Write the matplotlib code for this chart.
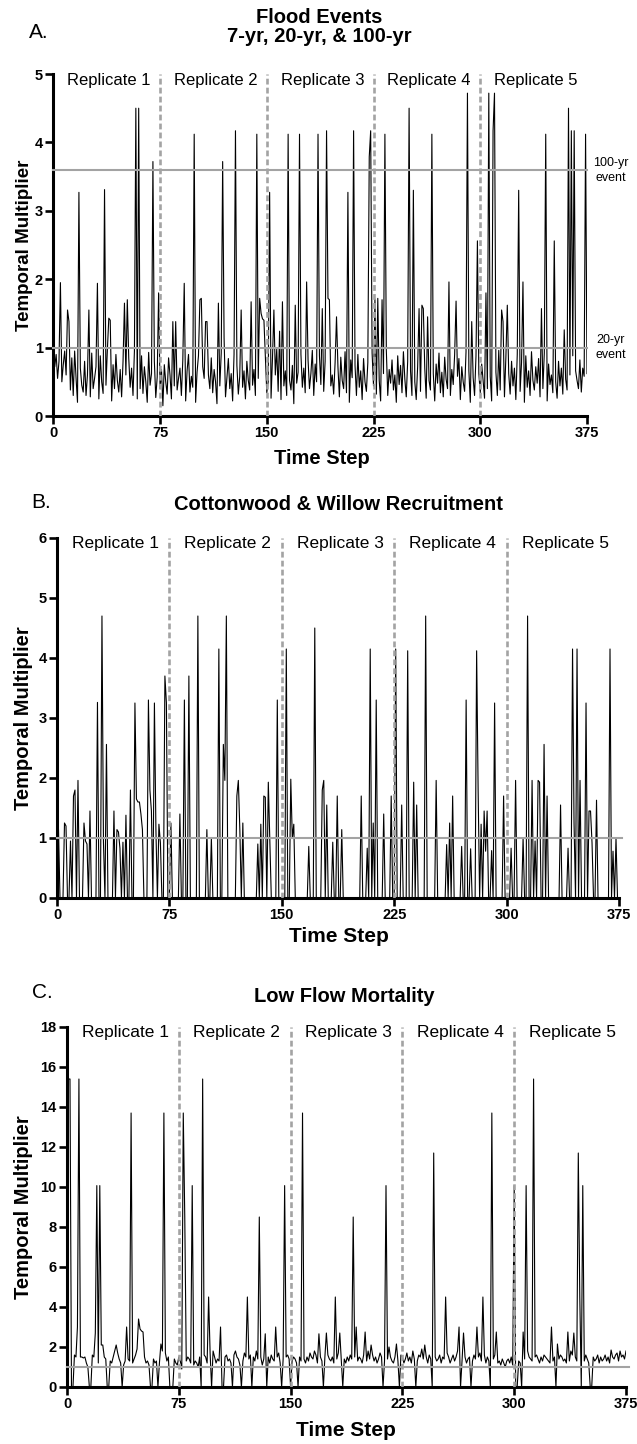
import matplotlib
matplotlib.use('Agg')
import matplotlib.pyplot as plt
from matplotlib.transforms import blended_transform_factory

plt.rcParams['font.family'] = ['Liberation Sans', 'DejaVu Sans']

W, H = 637, 1444

time_steps = list(range(376))
x_ticks = [0, 75, 150, 225, 300, 375]
replicate_edges = [75, 150, 225, 300]
replicate_names = ['Replicate 1', 'Replicate 2', 'Replicate 3', 'Replicate 4', 'Replicate 5']

# ---- A. flood events: low background values + read-off peaks ----
flood_base = [
    0.85, 0.72, 0.90, 0.55, 0.80, 0.62, 0.50, 0.75, 0.95, 0.60, 0.42, 0.70, 0.38, 0.85, 0.30, 0.95, 0.55, 0.20, 0.66, 0.70,
    0.45, 0.35, 0.80, 0.30, 0.60, 0.48, 0.28, 0.92, 0.40, 0.55, 0.72, 0.36, 0.25, 0.88, 0.50, 0.33, 0.62, 0.45, 0.97, 0.30,
    0.58, 0.22, 0.75, 0.40, 0.90, 0.52, 0.35, 0.68, 0.28, 0.80, 0.46, 0.60, 0.18, 0.85, 0.42, 0.70, 0.30, 0.95, 0.55, 0.25,
    0.65, 0.40, 0.88, 0.33, 0.72, 0.50, 0.20, 0.93, 0.45, 0.62, 0.36, 0.80, 0.27, 0.57, 0.90, 0.40, 0.68, 0.15, 0.75, 0.50,
    0.32, 0.85, 0.60, 0.25, 0.78, 0.44, 0.96, 0.38, 0.55, 0.70, 0.30, 0.82, 0.48, 0.22, 0.66, 0.90, 0.35, 0.58, 0.42, 0.76,
    0.20, 0.64, 0.88, 0.46, 0.30, 0.72, 0.55, 0.95, 0.26, 0.60, 0.40, 0.85, 0.34, 0.68, 0.50, 0.18, 0.78, 0.44, 0.92, 0.36,
    0.70, 0.28, 0.56, 0.84, 0.40, 0.62, 0.22, 0.90, 0.48, 0.74, 0.32, 0.58, 0.96, 0.42, 0.66, 0.25, 0.80, 0.52, 0.38, 0.86,
    0.45, 0.68, 0.30, 0.94, 0.55, 0.20, 0.76, 0.40, 0.62, 0.88, 0.34, 0.50, 0.72, 0.26, 0.84, 0.46, 0.60, 0.98, 0.36, 0.58,
    0.24, 0.80, 0.44, 0.66, 0.30, 0.92, 0.52, 0.38, 0.74, 0.18, 0.86, 0.48, 0.64, 0.28, 0.90, 0.42, 0.70, 0.34, 0.56, 0.82,
    0.40, 0.62, 0.96, 0.30, 0.76, 0.50, 0.22, 0.88, 0.46, 0.68, 0.36, 0.80, 0.54, 0.26, 0.92, 0.44, 0.60, 0.32, 0.78, 0.48,
    0.72, 0.28, 0.86, 0.52, 0.40, 0.94, 0.34, 0.64, 0.20, 0.82, 0.56, 0.46, 0.74, 0.30, 0.90, 0.42, 0.66, 0.24, 0.84, 0.50,
    0.36, 0.78, 0.58, 0.26, 0.92, 0.44, 0.70, 0.32, 0.86, 0.52, 0.22, 0.76, 0.62, 0.40, 0.96, 0.30, 0.68, 0.48, 0.82, 0.38,
    0.60, 0.20, 0.88, 0.46, 0.74, 0.34, 0.94, 0.54, 0.28, 0.80, 0.42, 0.66, 0.30, 0.90, 0.50, 0.24, 0.72, 0.58, 0.36, 0.86,
    0.44, 0.70, 0.26, 0.96, 0.52, 0.38, 0.82, 0.62, 0.22, 0.76, 0.48, 0.92, 0.34, 0.64, 0.28, 0.86, 0.54, 0.40, 0.78, 0.30,
    0.68, 0.46, 0.90, 0.32, 0.58, 0.84, 0.24, 0.72, 0.50, 0.36, 0.94, 0.42, 0.66, 0.20, 0.80, 0.56, 0.30, 0.88, 0.44, 0.62,
    0.34, 0.76, 0.52, 0.26, 0.92, 0.40, 0.70, 0.58, 0.22, 0.84, 0.48, 0.64, 0.30, 0.96, 0.38, 0.74, 0.54, 0.28, 0.86, 0.46,
    0.62, 0.32, 0.80, 0.44, 0.70, 0.24, 0.90, 0.50, 0.36, 0.78, 0.56, 0.20, 0.88, 0.42, 0.66, 0.30, 0.94, 0.52, 0.38, 0.72,
    0.48, 0.84, 0.28, 0.64, 0.40, 0.92, 0.56, 0.22, 0.76, 0.46, 0.60, 0.34, 0.86, 0.50, 0.26, 0.80, 0.44, 0.70, 0.32, 0.90,
    0.54, 0.38, 0.74, 0.60, 0.30, 0.88, 0.45, 0.66, 0.52, 0.40, 0.82, 0.35, 0.70, 0.58, 0.48, 0.62,
]
flood_peaks = {
    5: 1.95, 10: 1.55, 11: 1.38, 18: 3.27, 25: 1.55, 31: 1.94, 36: 3.31, 39: 1.43, 40: 1.40,
    50: 1.65, 52: 1.70, 58: 4.50, 60: 4.50, 70: 3.72, 74: 1.80, 84: 1.38, 86: 1.38, 92: 1.94,
    99: 4.12, 103: 1.70, 104: 1.72, 107: 1.38, 108: 1.38, 116: 1.65, 119: 3.72, 120: 1.14,
    128: 4.17, 132: 1.55, 139: 1.67, 143: 4.12, 145: 1.72, 146: 1.50, 147: 1.42, 148: 1.40,
    152: 3.27, 155: 1.55, 159: 1.24, 161: 1.67, 165: 4.12, 170: 1.62, 173: 4.12, 178: 1.96,
    186: 4.12, 189: 1.57, 192: 4.17, 193: 1.72, 194: 1.70, 199: 1.45, 207: 3.27, 211: 4.17,
    222: 3.79, 223: 4.17, 226: 1.71, 228: 1.72, 231: 1.70, 233: 4.12, 250: 4.50, 253: 3.30,
    257: 1.57, 259: 1.62, 260: 1.57, 263: 1.45, 266: 4.12, 278: 1.96, 283: 1.68, 291: 4.72,
    294: 1.38, 298: 2.56, 304: 1.80, 306: 4.72, 309: 4.17, 310: 4.72, 315: 1.55, 316: 1.38,
    319: 1.62, 327: 3.30, 330: 1.96, 343: 1.57, 346: 4.12, 352: 2.56, 359: 1.26, 362: 4.50,
    364: 4.17, 366: 4.17, 374: 4.12,
}
flood_values = [flood_peaks.get(t, v) for t, v in zip(time_steps, flood_base)]
flood_100yr = 3.59
flood_20yr = 1.0

# ---- B. cottonwood & willow recruitment: zero except read-off pulses ----
recruit_pulses = {
    0: 1.10, 1: 1.14, 5: 1.25, 6: 1.20, 9: 0.95, 11: 1.70, 12: 1.80, 14: 1.96, 18: 1.25, 19: 0.95,
    20: 0.90, 22: 1.45, 27: 3.26, 30: 4.70, 31: 0.93, 33: 2.56, 38: 1.45, 40: 1.14, 41: 1.10,
    42: 0.83, 44: 0.93, 46: 1.38, 49: 1.80, 52: 3.25, 53: 1.65, 54: 1.60, 55: 1.60, 56: 1.40,
    57: 1.14, 61: 3.30, 62: 1.80, 63: 1.45, 65: 3.25, 66: 1.14, 68: 1.23, 69: 0.92, 72: 3.70,
    73: 3.25, 76: 1.25, 82: 1.40, 85: 3.30, 88: 3.70, 94: 4.70, 100: 1.14, 103: 1.00, 108: 4.15,
    111: 2.56, 112: 1.96, 113: 4.70, 120: 1.70, 121: 1.96, 122: 1.14, 124: 1.25, 134: 0.90,
    136: 1.23, 138: 1.70, 139: 1.68, 141: 1.93, 142: 0.95, 147: 3.30, 153: 4.15, 156: 1.98,
    157: 1.00, 158: 1.23, 168: 0.86, 172: 4.50, 177: 1.80, 178: 1.96, 180: 1.55, 184: 0.93,
    187: 1.70, 190: 1.14, 203: 1.70, 207: 0.83, 209: 4.15, 211: 1.25, 213: 3.30, 218: 1.40,
    223: 1.70, 226: 4.15, 230: 1.55, 234: 4.12, 238: 1.93, 240: 1.55, 246: 4.70, 253: 1.96,
    260: 0.89, 262: 1.25, 264: 1.70, 270: 0.86, 273: 3.30, 276: 0.82, 280: 4.12, 281: 1.80,
    283: 1.23, 285: 1.45, 286: 0.78, 287: 1.45, 290: 0.79, 292: 3.25, 298: 1.70, 303: 0.83,
    306: 1.96, 311: 1.00, 314: 4.70, 317: 1.96, 319: 0.95, 321: 1.96, 322: 1.93, 325: 2.56,
    327: 1.70, 336: 1.55, 341: 0.83, 344: 4.15, 345: 1.25, 347: 4.15, 349: 1.96, 353: 3.25,
    355: 1.45, 356: 1.45, 357: 0.92, 360: 1.63, 369: 4.15, 371: 0.78, 373: 1.00,
}
recruit_values = [recruit_pulses.get(t, 0.0) for t in time_steps]
recruit_ref = 1.0

# ---- C. low flow mortality: background values + read-off peaks ----
mortality_base = [
    1.2, 1.3, 1.5, 0, 0, 1.6, 1.5, 1.4, 1.3, 1.5, 1.5, 1.45, 1.5, 1.2, 1.0, 0, 0, 1.6, 1.5, 1.3,
    1.4, 1.2, 1.8, 2.1, 1.6, 1.5, 1.4, 0, 0, 1.3, 1.2, 1.5, 1.8, 2.1, 1.7, 1.4, 1.2, 0, 1.1, 1.3,
    1.5, 1.4, 1.3, 1.6, 1.2, 1.4, 1.6, 1.9, 1.5, 1.3, 2.8, 1.6, 1.5, 1.2, 1.3, 1.1, 0, 0, 1.4, 1.2,
    1.3, 0, 1.2, 1.5, 1.8, 2.2, 1.7, 1.3, 1.5, 0, 0, 0, 1.4, 1.2, 1.1, 1.5, 1.3, 0.9, 1.4, 1.2,
    1.3, 1.5, 1.4, 1.2, 0, 1.1, 1.3, 1.2, 1.0, 1.5, 0, 1.3, 1.6, 1.5, 1.2, 1.0, 1.7, 0, 1.8, 1.5,
    1.2, 1.4, 1.3, 1.1, 0, 0, 1.5, 1.6, 1.3, 1.4, 1.2, 0, 1.6, 1.8, 1.5, 1.4, 1.1, 0, 1.3, 1.7,
    1.5, 1.2, 1.4, 1.6, 0, 1.5, 1.3, 1.8, 1.4, 1.2, 1.5, 1.1, 1.4, 1.3, 0, 1.5, 1.2, 1.6, 1.4, 1.3,
    1.8, 1.5, 1.7, 1.2, 0, 1.4, 1.3, 1.5, 1.6, 1.4, 0, 1.3, 1.5, 1.4, 1.2, 0, 1.5, 1.3, 1.6, 1.4,
    1.2, 1.5, 1.3, 1.7, 1.5, 1.4, 1.8, 1.6, 1.2, 1.4, 1.5, 1.3, 0, 1.5, 1.2, 1.6, 1.4, 1.3, 1.5, 1.2,
    1.6, 1.4, 1.7, 1.5, 1.3, 0, 1.4, 1.2, 1.5, 1.3, 1.6, 1.4, 1.2, 1.5, 1.8, 1.3, 1.5, 1.4, 1.2, 1.6,
    1.5, 1.3, 1.8, 1.4, 2.1, 1.6, 1.3, 1.5, 1.2, 1.4, 1.7, 1.5, 0, 1.3, 1.6, 1.4, 2.0, 1.5, 1.3, 1.2,
    1.5, 1.4, 1.3, 0, 1.6, 1.5, 1.2, 1.4, 1.7, 1.3, 1.5, 1.2, 1.8, 1.4, 0, 1.3, 1.6, 1.5, 1.9, 1.4,
    1.3, 1.5, 1.2, 1.6, 1.4, 0, 0, 1.5, 1.3, 1.4, 1.6, 1.2, 1.5, 1.4, 1.3, 1.7, 1.5, 1.2, 1.4, 1.6,
    1.3, 1.5, 1.8, 1.4, 0, 1.3, 1.6, 1.5, 1.2, 1.4, 1.5, 0, 1.3, 1.6, 1.4, 1.2, 1.5, 1.7, 1.3, 1.4,
    1.6, 1.2, 1.5, 1.3, 0, 0, 1.4, 1.6, 1.5, 1.2, 1.3, 1.1, 1.4, 1.2, 1.0, 1.3, 1.4, 1.2, 1.5, 1.1,
    0, 0, 0, 1.3, 1.2, 0, 1.5, 1.4, 1.6, 1.8, 1.5, 1.4, 1.3, 0, 1.5, 1.6, 1.4, 1.2, 1.5, 1.3,
    1.6, 1.5, 1.4, 1.3, 1.2, 1.4, 1.3, 1.5, 0, 0, 1.4, 1.6, 1.5, 1.3, 1.4, 1.2, 1.5, 1.3, 1.8, 1.6,
    1.4, 1.5, 1.3, 1.2, 1.4, 0, 1.5, 1.3, 1.6, 1.4, 1.2, 0, 0, 1.5, 1.3, 1.4, 1.6, 1.2, 1.5, 1.3,
    1.4, 1.6, 1.3, 1.5, 1.2, 1.8, 1.5, 1.4, 1.6, 1.7, 1.3, 1.8, 1.5, 1.6, 1.4, 1.8,
]
mortality_peaks = {
    1: 15.4, 2: 15.4, 7: 3.0, 8: 15.4, 19: 2.7, 20: 10.07, 22: 10.07, 24: 2.1, 33: 2.1, 40: 3.0,
    43: 13.7, 48: 3.4, 49: 2.9, 51: 2.75, 63: 2.15, 65: 13.7, 78: 13.7, 79: 8.5, 84: 10.07,
    91: 15.4, 95: 4.5, 103: 3.0, 121: 4.5, 129: 8.5, 133: 2.66, 140: 3.0, 146: 10.07, 158: 13.7,
    169: 2.66, 174: 2.7, 180: 4.5, 183: 2.7, 192: 8.5, 194: 3.0, 200: 2.75, 214: 10.07, 221: 2.15,
    240: 2.1, 246: 11.7, 254: 4.5, 263: 3.0, 266: 2.7, 275: 3.0, 279: 4.5, 285: 13.7, 288: 2.75,
    300: 10.07, 306: 2.75, 308: 10.07, 313: 15.4, 325: 3.0, 329: 2.15, 336: 2.75, 340: 2.7,
    343: 11.7, 344: 4.5, 346: 10.07, 365: 1.85,
}
mortality_values = [mortality_peaks.get(t, v) for t, v in zip(time_steps, mortality_base)]
mortality_ref = 1.0

GRAY = '#a3a3a3'
fig = plt.figure(figsize=(W / 100, H / 100), dpi=100)


def px_rect(left, right, top, bottom):
    return [left / W, 1 - bottom / H, (right - left) / W, (bottom - top) / H]


def draw_panel(rect, values, ymax, yticks, refs, rep_size=12, ref_end=375):
    ax = fig.add_axes(rect)
    ax.plot(time_steps, values, color='black', lw=0.8, zorder=2)
    for r in refs:
        ax.plot([0, ref_end], [r, r], color=GRAY, lw=1.5, zorder=3, clip_on=False)
    for e in replicate_edges:
        ax.plot([e, e], [0, ymax], color=GRAY, lw=1.9, ls=(0, (2.2, 1.2)), zorder=3)
    h_px = rect[3] * H
    for i, name in enumerate(replicate_names):
        ax.text(39 + 75 * i, 1 - 6 / h_px, name, transform=ax.get_xaxis_transform(),
                ha='center', va='center', fontsize=rep_size)
    ax.set_xlim(0, 375)
    ax.set_ylim(0, ymax)
    ax.set_xticks(x_ticks)
    ax.set_yticks(yticks)
    for s in ['top', 'right']:
        ax.spines[s].set_visible(False)
    for s in ['left', 'bottom']:
        ax.spines[s].set_linewidth(2.2)
    ax.tick_params(direction='out', length=5.5, width=1.9, labelsize=10.5, pad=2)
    for lab in ax.get_xticklabels() + ax.get_yticklabels():
        lab.set_fontweight('bold')
    return ax


def fig_text(x, y, s, **kw):
    fig.text(x / W, 1 - y / H, s, ha='center', va='center', **kw)


# Panel A
axA = draw_panel(px_rect(53.3, 587, 74, 416), flood_values, 5, [0, 1, 2, 3, 4, 5],
                 [flood_100yr, flood_20yr], rep_size=12)
fig_text(319, 27, 'Flood Events\n7-yr, 20-yr, & 100-yr', fontsize=14.5, fontweight='bold',
         linespacing=1.0)
fig_text(39, 33, 'A.', fontsize=15)
fig_text(322, 458, 'Time Step', fontsize=14.5, fontweight='bold')
fig_text(25, 245, 'Temporal Multiplier', fontsize=13.5, fontweight='bold', rotation=90)
side = blended_transform_factory(fig.transFigure, axA.transData)
axA.text(611 / W, flood_100yr, '100-yr\nevent', transform=side,
         ha='center', va='center', fontsize=9, linespacing=1.25)
axA.text(611 / W, flood_20yr, '20-yr\nevent', transform=side,
         ha='center', va='center', fontsize=9, linespacing=1.25)

# Panel B
draw_panel(px_rect(57, 619, 538, 898), recruit_values, 6, [0, 1, 2, 3, 4, 5, 6], [recruit_ref],
           rep_size=12.5, ref_end=377)
fig_text(338, 505, 'Cottonwood & Willow Recruitment', fontsize=14.5, fontweight='bold')
fig_text(41, 502, 'B.', fontsize=15)
fig_text(339, 937, 'Time Step', fontsize=15, fontweight='bold')
fig_text(24, 718, 'Temporal Multiplier', fontsize=14.5, fontweight='bold', rotation=90)

# Panel C
draw_panel(px_rect(67, 626, 1027, 1387), mortality_values, 18, list(range(0, 19, 2)), [mortality_ref],
           rep_size=12.5, ref_end=377)
fig_text(344, 996, 'Low Flow Mortality', fontsize=14.5, fontweight='bold')
fig_text(42, 992, 'C.', fontsize=15)
fig_text(346, 1430, 'Time Step', fontsize=15, fontweight='bold')
fig_text(24, 1207, 'Temporal Multiplier', fontsize=14.5, fontweight='bold', rotation=90)

fig.savefig('out.png', dpi=100)
plt.close(fig)
